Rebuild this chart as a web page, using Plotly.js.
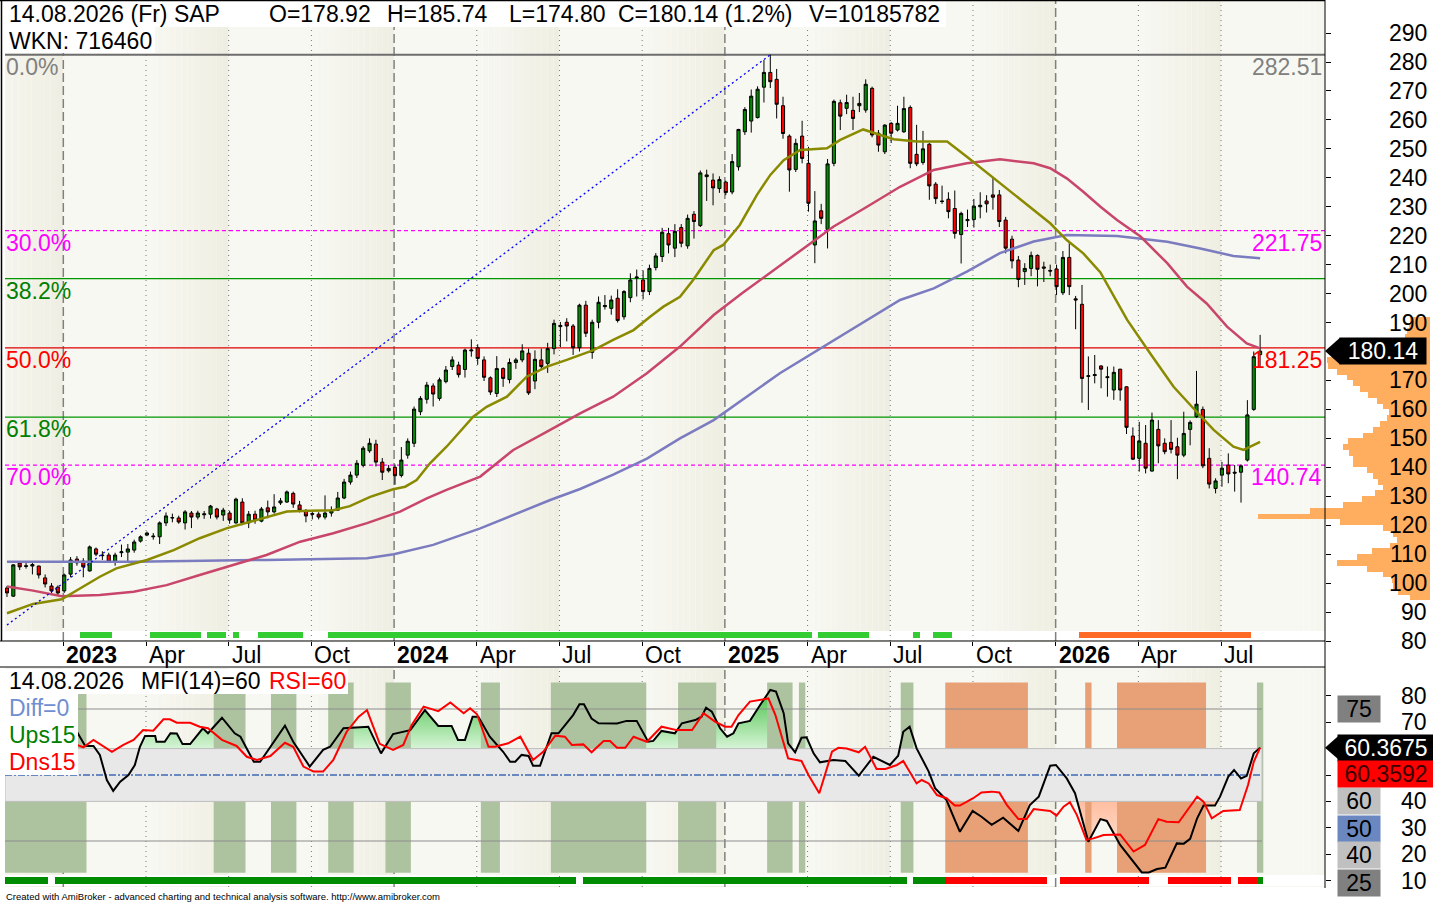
<!DOCTYPE html>
<html><head><meta charset="utf-8">
<script src="https://cdn.plot.ly/plotly-3.0.1.min.js"></script>
<style>html,body{margin:0;padding:0;background:#fff}#chart{width:1433px;height:902px}</style>
</head><body><div id="chart"></div>
<script>
// ---------------- DATA ----------------
const firstWeek = '2022-11-04'; // weekly bars (Friday)
const opens=[98.3,95.5,106.9,106,105.9,105.9,101.8,99,98.6,97.3,
103.1,108.3,107.6,104.2,111.8,109.7,109.7,107.6,110.5,110.7,
111.4,114.5,116.6,116,116,120.8,122.5,122.5,120.8,124.2,
122.8,123.6,123.8,125.6,123.5,124.2,120.8,128,120.8,123.8,
121.4,126,124.6,127.7,128,131,127,124.9,124,123.8,
122.8,124.2,125.2,129.4,134.9,137.3,140.7,145.7,148,141.8,
138.8,140,137.2,144.2,148.3,159.2,163.5,168.1,163.8,169.6,
174.8,175.3,173.8,180.2,181.3,177.1,170.9,165.5,174.1,170.3,
176.2,177.1,179.4,169.8,177.1,175.9,181,188.6,190.1,188.8,
181.3,196,179.7,190.1,195.5,194.9,198.4,192,198.6,205.4,
204.7,200.7,209,212.8,220.7,215.7,222.8,216.5,227.4,223.5,
240.4,239.2,236.3,238.5,235.1,243.8,255.9,259.6,260.8,271.3,
276.4,274,264.9,254.4,242.9,254.4,245,216.8,228.6,222.2,
245,265.9,264,263.3,264.9,263.4,270.9,255.4,249,258.8,
256.5,255.9,264.3,248.1,245.3,251.6,237.8,232,232.6,229.4,
220.4,225.2,225.6,230,232,234.1,234.1,225.4,218.8,211.6,
207.6,208.7,213.2,209.2,208,208.5,200.3,212.5,198.2,196.3,
171.4,171.7,175,171.3,166.7,173.9,167.8,150.8,143.1,148.3,
138.7,153.1,148.3,148.6,147.1,144.2,153.1,157.5,160,143.1,
132.7,137.3,140.8,138.3,138.3,142.5,160,178.92];
const highs=[99,106.5,107.6,107,107.3,106,103,100,99.2,103.3,
109,109.3,108.6,113,112.3,111,110.5,110.5,113.3,113.5,
115,116.5,117.8,117.3,121.3,124.4,124,123.3,125.2,124.9,
125,124.9,127,126,126,125,129.5,129.3,124.9,125,
126.3,128.5,130.7,129.4,132,131.6,128.4,125.6,125,124.5,
130.3,126.5,131.5,136,138.5,142.5,147.3,150,149.5,143.2,
140.8,141,147,150,161,164.6,169.5,169,171,175,
178.3,176.5,181,184.2,182.5,178.3,171.4,178.4,174.5,177.6,
177.8,182.5,181,180.4,181,183,191,190.2,191.5,189.5,
196.5,197.5,191,199,199.5,199.3,201.5,201.2,207,208.3,
208,210,214,222.7,222.7,224,224,227.3,228.5,242.5,
242.8,241.5,240.5,239,248.2,256.9,264.4,270.5,271.6,280.7,
282.51,277.6,268,255,253.5,259.7,250.7,235.4,231,246.5,
267,267,268.7,268,269.3,274,271.5,256.5,258.5,259.3,
264.9,268,265,258.3,256.2,252,238.5,237.3,235,235.6,
228.3,229,232.7,235,234,240.1,235.8,226.5,220,213,
210.5,214.5,213.5,211,210,210,214.7,218.1,199.2,203,
178.3,178.8,175.3,174.8,174.8,174,168,153.8,155.7,154.6,
158.9,156.3,150,156.3,150.2,159.2,156.2,173.3,161,146.6,
136.2,141.9,144.8,140.8,141,163.2,180,185.74];
const lows=[95.2,95.2,104.5,105,103,101.6,98.5,96.6,95.8,96.6,
102,106,102,104,109.3,108,107,106,109,107.3,
110.5,114,116.2,115,113.5,119.7,121,120.5,118.5,119,
122,122.2,122.3,122,121.5,120.5,120.5,120,119,120.5,
121,122.4,124,127,127.7,126,124.4,121,122,122,
122,123,125,129,134,136.3,140,145,140.3,135.6,
138.2,134,136.5,143,147,158,162,161,163,169,
173.6,171,171,178.2,175.4,169.8,165,164.3,167.8,169,
174,176.3,165,167,174,172.6,179,181.5,183.5,178.8,
180,185,177.5,188,194.5,192.7,190,191,197,199,
198,199.5,208,210.9,213.9,212.6,216,215.5,219,223,
232,230.5,234.8,234,234.3,242.5,254.8,255.6,260.5,266,
271,260.5,253.5,235.2,242,245,228.3,210.5,224,215.6,
244,256.5,262,256.5,262.7,262.5,254,249,248.2,252,
256,255.5,243.3,244,244.5,232.4,231,231,226,219,
210.4,223,222.8,226,228,229,223,213.9,208.7,202.2,
203,206,202.5,204,206,199.5,199.5,199.5,187.7,162.3,
159.8,169,167.3,164.4,163.3,163,151.5,142.5,138.5,137.9,
138.5,141.4,144.5,144.8,135.9,143.5,147.6,157,139.7,132.7,
131,133.3,134.5,131.6,127.8,142,159.5,174.80];
const closes=[96.6,106.3,105.6,105.8,106.4,102.8,99.7,97.3,96.6,102.8,
108,107,105.6,112.5,110,109.5,107.3,109.7,110.8,111.8,
114.2,116,117.3,116.2,120.8,123.2,122.6,121.1,124.6,122.8,
124.2,123.9,126.6,122.8,125.2,121.8,129,120.8,123.8,121.8,
125.6,124.6,126.3,128.4,131.5,127.3,125.2,123.2,123.8,122.8,
124.2,125.2,129.4,134.9,137.3,141.4,146.6,148.3,141.8,138.3,
139.6,137.1,142.5,149,160.1,163.8,168.4,165.3,170.2,173.6,
177.1,172,180.5,180.5,177.6,171.1,166,174.1,170.7,176.2,
177.1,180.2,165.7,177.3,174.8,181,189.7,189,188.8,181.3,
196,186.3,190.1,197,195.9,197.8,190.7,200.7,204.7,205.7,
200.7,208.7,213,221.2,216.8,221.5,217.4,226,224.9,241.7,
241,236.5,239.4,234.9,245.6,256.7,263.6,268.2,270.6,276.4,
273.2,265.4,255.3,242.7,251.9,246.7,231.2,225.1,226,244.8,
266.4,261.3,266,260.5,265.7,272.3,254.8,251.3,258.2,255.4,
258.8,263.9,245,244.8,250,237.2,232.8,231.8,228.3,220.8,
227.7,225.6,230.2,230.5,231,233.3,224.9,215.7,211.3,204.9,
208.7,213.2,208.4,208.8,207.8,202.4,212.5,202.4,197.8,170.7,
171.6,172,173.9,171,172.8,166.7,153.8,142.8,149.1,139.7,
156.3,147.4,145.4,146.2,144.2,151.7,155.5,161.8,140.5,134.2,
135.3,139.7,137.7,138,140.5,158.1,178.2,180.14];

// moving averages: [week index, value]
const maShort=[[0,89.6],[4.1,92.8],[8.6,94.4],[12,98.8],[14.6,102.2],[17.2,105.1],[22,108],[26.2,111.4],[30.3,115.5],[34.5,118.9],[40.8,122.9],[44,124.7],[47.6,125],[51.3,125.2],[53.9,126.6],[57.1,129.8],[60.7,132.4],[62.6,133.3],[64.4,135.6],[66.5,141.4],[69.1,147.1],[73.3,157.5],[75.4,160.9],[78.6,164.4],[81.7,171.3],[84.9,174.8],[88,177.1],[92.2,180.5],[95.3,184],[98.5,187.4],[101.1,192],[103.2,195.5],[105.8,198.9],[107.9,204.8],[111.1,215],[112.6,216.8],[115.2,223.7],[117.9,234.1],[120,241],[121.5,244.4],[122.1,246.1],[124.7,249.6],[128.9,250.2],[131,253.1],[134.6,256.7],[137.3,254.8],[139.4,253.3],[143,252.5],[147.8,252.5],[150.9,247.3],[153.5,242.7],[156.1,238.1],[158.8,233.5],[161.4,228.9],[164,224.3],[166.6,218.5],[169.2,213.9],[171.9,207.3],[176.1,190.9],[179.7,179.4],[183.4,167.8],[186.5,160.4],[189.7,152.9],[192.8,147.1],[194.4,146],[197,148.8]];
const maMid=[[0,98.8],[4.1,97.4],[8.6,95.5],[14.6,95.9],[19.9,97],[25.1,99.3],[30.3,102.8],[35.6,106.3],[40.8,109.7],[46.1,114.3],[51.3,117.2],[56.6,120.7],[61.8,124.7],[66,129.3],[69.1,132.2],[74.4,136.8],[79.6,146],[84.9,152.3],[90.1,158.6],[95.3,164.4],[100.6,172.5],[105.8,181.7],[111.1,192.6],[115.5,200],[121.5,209.7],[124.7,215],[129.9,223.1],[135.2,230],[140.4,236.9],[145.7,242.7],[150.9,245],[156.1,246.4],[161.4,245],[164,243.3],[166.6,239.8],[169.2,235.2],[171.9,230],[174.5,225.4],[178.2,219.7],[182.4,210.5],[185.5,202.4],[188.6,196.6],[191.8,188.6],[194.9,182.8],[197,181.1]];
const maLong=[[0,107.4],[19.9,107.4],[40.8,108],[56.6,108.6],[60.8,110],[67,113.2],[74.4,118.9],[85.4,128.7],[90.1,132.5],[95.3,137.5],[100.6,143],[105.8,150],[111.1,156.3],[116.3,164.4],[121.5,172.5],[140.4,197.8],[145.7,201.8],[150.9,207.6],[156.1,214],[161.4,218],[166.6,220.2],[174.5,219.9],[182.4,217.9],[187.6,215.6],[192.8,213],[197,212.2]];
const trendPts=[[0,85.5],[120,282.51]];

// Fibonacci retracement levels
const fibPct=['0.0%','30.0%','38.2%','50.0%','61.8%','70.0%'];
const fibPrice=[282.51,221.75,205.15,181.25,157.35,140.74];
const fibRightLabel=['282.51','221.75','','181.25','','140.74'];

// volume-at-price profile (price bin, relative volume)
const profPrice=[191,189,187,185,183,181,179,177,175,173,171,169,167,165,163,161,159,157,155,153,151,149,147,145,143,141,139,137,135,133,131,129,127,125,123,121,119,117,115,113,111,109,107,105,103,101,99,97,95];
const profVol=[20,21,23,25,28,32,95,103,102,93,83,77,70,62,53,47,41,43,50,57,67,82,87,81,77,77,63,57,52,47,55,68,87,120,172,90,47,37,33,40,58,73,93,63,47,38,37,32,20];

// indicator pane: MFI(14) and RSI [week index, value]
const mfiPts=[[0,62],[6,66],[11,66.4],[12.3,61],[13.6,61],[14.6,57.6],[15.7,48.1],[16.7,44],[17.8,47.5],[19.1,50],[20.1,53.8],[20.9,60.7],[21.7,64.8],[23.3,64.8],[23.5,62.6],[24.8,62.6],[25.7,65.8],[26.7,65.7],[27.6,61.7],[28.8,61.7],[30.8,67.7],[31.6,65.8],[33.8,71.7],[35.8,65.8],[36.7,64.5],[38.8,55],[39.8,55],[41.9,62.6],[43.7,68.7],[45,62.6],[47.6,53.2],[49.7,59.5],[50.8,60.7],[52.9,67.7],[56.8,68.3],[58.8,58.2],[60.7,65.5],[63.4,67],[65.7,74.6],[67.8,68.6],[69.9,68.6],[70.9,63.3],[72,63.3],[73.2,72.1],[74.1,72.1],[75.9,64.5],[78,58.8],[79.1,55],[79.9,55],[80.9,57.6],[82,57.2],[82.7,53.5],[83.8,53.5],[85.6,65.8],[86.7,65.8],[89,72.7],[90,76.8],[90.7,76.8],[91.9,71.4],[93,69.6],[95.9,69.5],[97.4,70.5],[99,70.5],[100.8,62.6],[101.6,62.9],[102.9,66.7],[105,65.8],[106.1,69.6],[108.2,70.8],[109.2,72.1],[109.9,75.5],[110.8,74],[112.1,67.7],[113.2,64.5],[114.2,65.8],[115,69.6],[116.8,70.5],[118.4,76.5],[120,82.2],[120.9,81.6],[122.1,73.4],[122.8,62],[123.9,58.6],[124.9,64.1],[125.7,64.3],[126.8,58.2],[127.8,54.8],[129.9,55.7],[131.8,55.3],[133.9,49.7],[136.2,56.9],[138.8,53.8],[140.1,57.3],[140.9,66.4],[141.9,68.3],[143,60.1],[144.9,51.3],[145.9,45],[147.7,40.5],[149,33],[149.8,28.5],[151.8,36.4],[153.2,34.2],[154.8,31.1],[156.6,33.8],[159,28.8],[160.8,38.6],[162.2,41.8],[164,53.5],[164.9,53.8],[166.6,48.7],[167.9,43.1],[169.2,32.3],[170,24.7],[171.9,33.3],[172.9,32.6],[175,23.5],[177.1,17.2],[178.4,13.1],[179.5,13.1],[180.8,14.4],[182.1,14.9],[183.9,24.1],[185,24],[186,25.8],[187.1,33.6],[188.1,38.4],[189.9,38.4],[190.7,41.8],[192,49.4],[192.9,51.9],[194,48.7],[194.9,49.7],[196,58.2],[197,60.3675]];
const rsiPts=[[0,63],[6,64],[11,61.4],[12,60.5],[13.6,63.3],[16.5,58.8],[18.3,61.4],[19.9,63.3],[21.4,67],[23,66.8],[24.6,71.1],[25.6,71.1],[26.7,69.8],[28.8,69.8],[30.3,68.3],[31.6,67.7],[33.8,63.3],[36.1,61],[37.7,56.9],[39.3,55.7],[41.4,57.2],[43.7,62.2],[45,60.7],[46.6,53.2],[48.2,51.3],[49.7,51.3],[51.3,55.7],[53.4,66.4],[55.3,72.1],[56.6,74.6],[58.6,61.8],[60.7,59.5],[62.3,61.4],[63.6,68.9],[65.5,75.9],[67.8,74.2],[69.7,77.5],[71.8,73.4],[72.8,75.3],[73.9,73],[75.7,60.7],[76.7,60.7],[78.8,62],[80.7,64.5],[82.7,55.7],[84.3,58.8],[86.2,64.9],[87.7,64.5],[88.8,61.4],[90.6,61.6],[91.9,58.6],[93.8,62.9],[94.8,62.9],[95.9,60.3],[97.2,60.3],[98.5,64.5],[100.6,62.6],[102.9,68.3],[105.3,67],[107.7,67],[109.5,73.4],[111.3,70.2],[112.9,68.3],[113.9,68.3],[115,72.7],[116.8,77.8],[119.7,79],[120.8,72.7],[122.8,56.3],[124.9,55.3],[126,50],[127.7,43.1],[129.7,58.8],[130.7,60.3],[132,60],[133.9,58.6],[134.9,60.7],[136.7,52.3],[138.1,52.3],[139.9,53.8],[140.9,55.3],[143,46.8],[143.8,48.1],[144.9,46.8],[146.2,42.4],[147.7,41.2],[149,38.4],[149.8,38.4],[151.9,41.2],[153.2,43.4],[154.8,43.7],[156,43.4],[157.2,38.6],[159,33.3],[160.3,33.3],[161.4,37.1],[164,36.4],[165,34.6],[166.1,38],[167.1,39.7],[168.2,34.8],[169.7,25.4],[170.8,26],[172.4,27.3],[175,27.5],[177.1,21],[178.9,23.5],[181,33.3],[182.3,32.3],[184.2,32.1],[187.1,41.8],[188.1,39.9],[189.4,33.6],[191.2,36.4],[193.8,36.7],[195.1,46.2],[196,55],[197,60.3592]];

// state ribbons / bands: inclusive week ranges
const topStripGreen=[[12,16],[23,30],[32,34],[36,36],[40,46],[51,126],[128,135],[143,143],[146,148]];
const topStripOrange=[[169,195]];
const botStripGreen=[[0,6],[8,89],[91,141],[143,147],[197,197]];
const botStripRed=[[148,163],[166,179],[183,192],[194,196]];
const bandGreen=[[0,12],[33,37],[42,45],[51,54],[60,63],[75,77],[86,100],[106,111],[120,123],[125,125],[141,142],[197,197]];
const bandOrange=[[148,160],[170,170],[175,188]];

// axis ticks (labels hidden behind value tags are left out, as in the original)
const priceTicks=[80,90,100,110,120,130,140,150,160,170,180,190,200,210,220,230,240,250,260,270,280,290];
const priceTickLabels=[80,90,100,110,120,130,140,150,160,170,190,200,210,220,230,240,250,260,270,280,290];
const oscTicks=[80,70,60,50,40,30,20,10];
const oscTickLabels=[80,70,40,30,20,10];
const tickDates=['2023-01-06','2023-04-07','2023-07-07','2023-10-06','2024-01-05','2024-04-05','2024-07-05','2024-10-04','2025-01-03','2025-04-04','2025-07-04','2025-10-03','2026-01-02','2026-04-03','2026-07-03'];
const tickLabels=['2023','Apr','Jul','Oct','2024','Apr','Jul','Oct','2025','Apr','Jul','Oct','2026','Apr','Jul'];

// ---------------- HELPERS ----------------
const W=1433,H=902,DAY=864e5;
const t0=Date.parse(firstWeek+'T00:00:00Z');
const iso=ms=>new Date(ms).toISOString().replace('T',' ').slice(0,19);
const wd=i=>iso(t0+i*7*DAY);
const px=x=>x/W, py=y=>1-y/H;
const FONT='Liberation Sans, Arial, Helvetica, sans-serif';
const dates=opens.map((_,i)=>wd(i));
const expand=r=>r.flatMap(([a,b])=>Array.from({length:b-a+1},(_,k)=>a+k));
const xRange=[wd(-0.31),wd(207.2)];

const traces=[];
// candles
traces.push({type:'candlestick',x:dates,open:opens,high:highs,low:lows,close:closes,
  increasing:{line:{color:'#000',width:1},fillcolor:'#008c00'},
  decreasing:{line:{color:'#000',width:1},fillcolor:'#ff0000'},
  whiskerwidth:0,xaxis:'x',yaxis:'y',hoverinfo:'skip',showlegend:false});
function lineTrace(pts,color,width,dash,xa,ya){
  return {type:'scatter',mode:'lines',x:pts.map(p=>wd(p[0])),y:pts.map(p=>p[1]),
    line:{color,width,dash:dash||'solid'},xaxis:xa,yaxis:ya,hoverinfo:'skip',showlegend:false};
}
traces.push(lineTrace(maLong,'#7b7bbf',2.5,null,'x','y'));
traces.push(lineTrace(maMid,'#c8466a',2.5,null,'x','y'));
traces.push(lineTrace(maShort,'#8a8a00',2.5,null,'x','y'));
traces.push(lineTrace(trendPts,'#0000ff',1.3,'2px,3px','x','y'));

// volume profile
traces.push({type:'bar',orientation:'h',x:profVol,y:profPrice,width:2,
  marker:{color:'#ffad5e',line:{width:0}},xaxis:'x3',yaxis:'y',hoverinfo:'skip',showlegend:false});

function stripBars(ranges,color,xa,ya){
  const w=expand(ranges);
  return {type:'bar',x:w.map(wd),y:w.map(()=>1),base:w.map(()=>0),width:w.map(()=>7*DAY),
    marker:{color,line:{width:0}},xaxis:xa,yaxis:ya,hoverinfo:'skip',showlegend:false};
}
traces.push(stripBars(topStripGreen,'#33cc33','x','y4'));
traces.push(stripBars(topStripOrange,'#ff6a26','x','y4'));
traces.push(stripBars(botStripGreen,'#008c00','x2','y5'));
traces.push(stripBars(botStripRed,'#ff0000','x2','y5'));

// indicator fills (MFI above 60 / below 40)
function clipped(pts,level,above){
  const out=[];
  for(let k=0;k<pts.length;k++){
    out.push(pts[k]);
    if(k<pts.length-1){
      const [x1,y1]=pts[k],[x2,y2]=pts[k+1];
      if((y1-level)*(y2-level)<0){const t=(level-y1)/(y2-y1);out.push([x1+t*(x2-x1),level]);}
    }
  }
  return {x:out.map(p=>wd(p[0])),yb:out.map(()=>level),y:out.map(p=>above?Math.max(p[1],level):Math.min(p[1],level))};
}
const up=clipped(mfiPts,60,true), dn=clipped(mfiPts,40,false);
traces.push({type:'scatter',mode:'lines',x:up.x,y:up.yb,line:{width:0},xaxis:'x2',yaxis:'y2',hoverinfo:'skip',showlegend:false});
traces.push({type:'scatter',mode:'lines',x:up.x,y:up.y,line:{width:0},fill:'tonexty',fillcolor:'rgba(110,210,110,0.9)',
  fillgradient:{type:'vertical',colorscale:[[0,'#d6f4d6'],[1,'#46c046']]},xaxis:'x2',yaxis:'y2',hoverinfo:'skip',showlegend:false});
traces.push({type:'scatter',mode:'lines',x:dn.x,y:dn.yb,line:{width:0},xaxis:'x2',yaxis:'y2',hoverinfo:'skip',showlegend:false});
traces.push({type:'scatter',mode:'lines',x:dn.x,y:dn.y,line:{width:0},fill:'tonexty',fillcolor:'rgba(255,200,175,0.9)',
  fillgradient:{type:'vertical',colorscale:[[0,'#fff3ec'],[1,'#ffbea0']]},xaxis:'x2',yaxis:'y2',hoverinfo:'skip',showlegend:false});

// state bands as filled rectangles (scatter, so they cover the fills)
const BAND_LO=13, BAND_HI=85;
function bandTrace(ranges,color){
  const x=[],y=[];
  ranges.forEach(([a,b])=>{
    const l=wd(a-0.5), r=wd(b+0.5);
    x.push(l,r,r,l,l,null); y.push(BAND_LO,BAND_LO,BAND_HI,BAND_HI,BAND_LO,null);
  });
  return {type:'scatter',mode:'lines',x,y,fill:'toself',fillcolor:color,line:{width:0},
    xaxis:'x2',yaxis:'y2',hoverinfo:'skip',showlegend:false};
}
traces.push(bandTrace(bandGreen,'#adc39f'));
traces.push(bandTrace(bandOrange,'#e8a176'));
// neutral zone 40-60
const zL=wd(-0.31), zR=wd(197.3);
traces.push({type:'scatter',mode:'lines',x:[zL,zR,zR,zL,zL],y:[40,40,60,60,40],fill:'toself',fillcolor:'#e8e8e8',
  line:{color:'#bdbdbd',width:1},xaxis:'x2',yaxis:'y2',hoverinfo:'skip',showlegend:false});
[75,25].forEach(v=>traces.push({type:'scatter',mode:'lines',x:[zL,zR],y:[v,v],line:{color:'#8c8c8c',width:1},xaxis:'x2',yaxis:'y2',hoverinfo:'skip',showlegend:false}));
traces.push({type:'scatter',mode:'lines',x:[zL,zR],y:[50,50],line:{color:'#6a88c0',width:2,dash:'7px,2px,2px,2px'},xaxis:'x2',yaxis:'y2',hoverinfo:'skip',showlegend:false});
traces.push(lineTrace(mfiPts,'#000000',2,null,'x2','y2'));
traces.push(lineTrace(rsiPts,'#ff0000',2,null,'x2','y2'));

// ---------------- SHAPES ----------------
const shapes=[];
const panels=[[1,641],[668,887]];
const LIGHT=[248,248,243],BEIGE=[239,238,226];
const mix=t=>'rgb('+LIGHT.map((c,k)=>Math.round(c+(BEIGE[k]-c)*t)).join(',')+')';
const lineMs=d=>Date.parse(d+'T00:00:00Z')-1*DAY;
const qMs=tickDates.map(lineMs);
const starts=[lineMs('2022-07-01')].concat(qMs.filter((_,k)=>k%2===0)).concat([lineMs('2027-01-01')]);
const mids=[lineMs('2022-09-30')].concat(qMs.filter((_,k)=>k%2===1)).concat([lineMs('2026-10-02')]);
for(let h=0;h<starts.length-1;h++){
  const s=starts[h],m=mids[h],e=starts[h+1];
  panels.forEach(([y0,y1])=>{
    shapes.push({type:'rect',xref:'x',yref:'paper',x0:iso(s),x1:iso(m),y0:py(y1),y1:py(y0),fillcolor:mix(0),line:{width:0},layer:'below'});
    const N=14;
    for(let k=0;k<N;k++){
      shapes.push({type:'rect',xref:'x',yref:'paper',x0:iso(m+(e-m)*k/N),x1:iso(m+(e-m)*(k+1)/N),y0:py(y1),y1:py(y0),
        fillcolor:mix((k+0.5)/N),line:{width:0},layer:'below'});
    }
  });
}
// white ribbon backgrounds
shapes.push({type:'rect',xref:'x',yref:'paper',x0:xRange[0],x1:xRange[1],y0:py(640),y1:py(631),fillcolor:'#fff',line:{width:0},layer:'below'});
shapes.push({type:'rect',xref:'x',yref:'paper',x0:xRange[0],x1:xRange[1],y0:py(886),y1:py(875),fillcolor:'#fff',line:{width:0},layer:'below'});
// period separators
tickDates.forEach((d,k)=>{
  const yr=/^\d{4}$/.test(tickLabels[k]);
  panels.forEach(([y0,y1])=>{
    shapes.push({type:'line',xref:'x',yref:'paper',x0:iso(lineMs(d)),x1:iso(lineMs(d)),y0:py(y1),y1:py(y0),
      line:{color:yr?'#808080':'#777',width:yr?1.5:1,dash:yr?'9px,4px':'1px,4px'},layer:'below'});
  });
});
// fib lines
const fibColor=['#6e6e6e','#ff00ff','#009600','#e00000','#009600','#ff00ff'];
const fibDash=['solid','4px,3px','solid','solid','solid','4px,3px'];
fibPrice.forEach((p,k)=>shapes.push({type:'line',xref:'paper',yref:'y',x0:px(5),x1:px(1325),y0:p,y1:p,
  line:{color:fibColor[k],width:k===0?2:1.3,dash:fibDash[k]},layer:'below'}));
// label boxes & frame (above)
const box=(x0,y0,x1,y1,c)=>shapes.push({type:'rect',xref:'paper',yref:'paper',x0:px(x0),x1:px(x1),y0:py(y1),y1:py(y0),fillcolor:c,line:{width:0},layer:'above'});
box(4,1,946,27,'#fff'); box(4,27,155,53,'#fff');
box(4,669,348,694,'#fff'); box(4,694,78,775,'#fff');
const ln=(x0,y0,x1,y1,w)=>shapes.push({type:'line',xref:'paper',yref:'paper',x0:px(x0),x1:px(x1),y0:py(y0),y1:py(y1),line:{color:'#000',width:w||1},layer:'above'});
ln(0,0.5,1325,0.5,1.5); ln(1.5,0,1.5,641,1.5); ln(0,641,1325,641); ln(0,667,1325,667); ln(1325,0,1325,888);
// value tag arrows
shapes.push({type:'path',xref:'paper',yref:'y',path:`M ${px(1325)},180.14 L ${px(1340)},${180.14+4.6} L ${px(1340)},${180.14-4.6} Z`,fillcolor:'#000',line:{width:0},layer:'above'});
shapes.push({type:'path',xref:'paper',yref:'y2',path:`M ${px(1325)},60.3675 L ${px(1340)},${60.3675+5} L ${px(1340)},${60.3675-5} Z`,fillcolor:'#000',line:{width:0},layer:'above'});

// ---------------- ANNOTATIONS ----------------
const ann=[];
const txt=(o)=>ann.push(Object.assign({showarrow:false,font:{family:FONT,size:23,color:'#000'}},o));
// header
[['14.08.2026 (Fr) SAP',7],['O=178.92',267],['H=185.74',385],['L=174.80',507],['C=180.14 (1.2%)',616],['V=10185782',807]]
  .forEach(([t,x])=>txt({text:t,xref:'paper',yref:'paper',x:px(x),y:py(14),xanchor:'left',yanchor:'middle'}));
txt({text:'WKN: 716460',xref:'paper',yref:'paper',x:px(7),y:py(41),xanchor:'left',yanchor:'middle'});
// fib labels
const fibTxtColor=['#808080','#ff00ff','#008000','#ff0000','#008000','#ff00ff'];
fibPrice.forEach((p,k)=>{
  txt({text:fibPct[k],xref:'paper',yref:'y',x:px(4),y:p,xanchor:'left',yanchor:'top',yshift:3,font:{family:FONT,size:23,color:fibTxtColor[k]}});
  if(fibRightLabel[k]) txt({text:fibRightLabel[k],xref:'paper',yref:'y',x:px(1324),y:p,xanchor:'right',yanchor:'top',yshift:3,font:{family:FONT,size:23,color:fibTxtColor[k]}});
});
// price axis labels
priceTickLabels.forEach(v=>txt({text:String(v),xref:'paper',yref:'y',x:px(1429),y:v,xanchor:'right',yanchor:'middle'}));
txt({text:'180.14',xref:'paper',yref:'y',x:px(1383),y:180.14,xanchor:'center',yanchor:'middle',width:86,height:26,bgcolor:'#000',borderpad:0,font:{family:FONT,size:23,color:'#fff'}});
// date labels
tickDates.forEach((d,k)=>{
  const yr=/^\d{4}$/.test(tickLabels[k]);
  txt({text:yr?'<b>'+tickLabels[k]+'</b>':tickLabels[k],xref:'x',yref:'paper',x:iso(lineMs(d)),y:py(655),xanchor:'left',yanchor:'middle',xshift:1});
});
// indicator header & legend
txt({text:'14.08.2026',xref:'paper',yref:'paper',x:px(7),y:py(681),xanchor:'left',yanchor:'middle'});
txt({text:'MFI(14)=60',xref:'paper',yref:'paper',x:px(139),y:py(681),xanchor:'left',yanchor:'middle'});
txt({text:'RSI=60',xref:'paper',yref:'paper',x:px(267),y:py(681),xanchor:'left',yanchor:'middle',font:{family:FONT,size:23,color:'#ff0000'}});
txt({text:'Diff=0',xref:'paper',yref:'paper',x:px(7),y:py(708),xanchor:'left',yanchor:'middle',font:{family:FONT,size:23,color:'#6f8fd0'}});
txt({text:'Ups15',xref:'paper',yref:'paper',x:px(7),y:py(735),xanchor:'left',yanchor:'middle',font:{family:FONT,size:23,color:'#008000'}});
txt({text:'Dns15',xref:'paper',yref:'paper',x:px(7),y:py(762),xanchor:'left',yanchor:'middle',font:{family:FONT,size:23,color:'#ff0000'}});
// osc axis labels
oscTickLabels.forEach(v=>txt({text:String(v),xref:'paper',yref:'y2',x:px(1429),y:v,xanchor:'right',yanchor:'middle'}));
[['75',75,0,'#808080'],['60',60,-52.5,'#c0c0c0'],['50',50,-54,'#6a88bf'],['40',40,-54,'#c0c0c0'],['25',25,-42,'#808080']]
  .forEach(([t,v,s,c])=>txt({text:t,xref:'paper',yref:'y2',x:px(1359),y:v,yshift:s,xanchor:'center',yanchor:'middle',width:42,height:26,bgcolor:c,borderpad:0}));
txt({text:'60.3675',xref:'paper',yref:'y2',x:px(1386),y:60.3675,xanchor:'center',yanchor:'middle',width:96,height:26,bgcolor:'#000',borderpad:0,font:{family:FONT,size:23,color:'#fff'}});
txt({text:'60.3592',xref:'paper',yref:'y2',x:px(1386),y:60.3675,yshift:-26.5,xanchor:'center',yanchor:'middle',width:96,height:26,bgcolor:'#ff0000',borderpad:0,font:{family:FONT,size:23,color:'#3a0000'}});
// footer
ann.push({text:'Created with AmiBroker - advanced charting and technical analysis software. http://www.amibroker.com',showarrow:false,
  xref:'paper',yref:'paper',x:px(4),y:py(896),xanchor:'left',yanchor:'middle',font:{family:FONT,size:9.5,color:'#000'}});

// ---------------- LAYOUT ----------------
const noAx={showgrid:false,zeroline:false,showticklabels:false,fixedrange:true};
const layout={
  width:W,height:H,margin:{l:0,r:0,t:0,b:0},paper_bgcolor:'#fff',plot_bgcolor:'rgba(0,0,0,0)',
  showlegend:false,hovermode:false,barmode:'overlay',bargap:0,font:{family:FONT},
  xaxis:Object.assign({},noAx,{type:'date',domain:[px(5),px(1325)],range:xRange,anchor:'y',showline:false,
    ticks:'outside',ticklen:4,tickcolor:'#000',tickvals:tickDates.map(d=>iso(lineMs(d))),rangeslider:{visible:false}}),
  yaxis:Object.assign({},noAx,{domain:[py(641),1],range:[80,80+641/2.895],anchor:'x',side:'right',showline:false,
    ticks:'outside',ticklen:5,tickcolor:'#000',tickvals:priceTicks}),
  xaxis2:Object.assign({},noAx,{type:'date',domain:[px(5),px(1325)],range:xRange,matches:'x',anchor:'y2'}),
  yaxis2:Object.assign({},noAx,{domain:[py(887),py(668)],range:[50-112/2.64,50+107/2.64],anchor:'x2',side:'right',
    ticks:'outside',ticklen:5,tickcolor:'#000',tickvals:oscTicks}),
  xaxis3:Object.assign({},noAx,{domain:[px(1030),px(1430)],range:[400,0],anchor:'y',visible:false}),
  yaxis4:Object.assign({},noAx,{domain:[py(638.3),py(631.7)],range:[0,1],anchor:'x',visible:false}),
  yaxis5:Object.assign({},noAx,{domain:[py(884),py(876.7)],range:[0,1],anchor:'x2',visible:false}),
  shapes,annotations:ann
};
Plotly.newPlot('chart',traces,layout,{staticPlot:true,displayModeBar:false});
</script></body></html>
